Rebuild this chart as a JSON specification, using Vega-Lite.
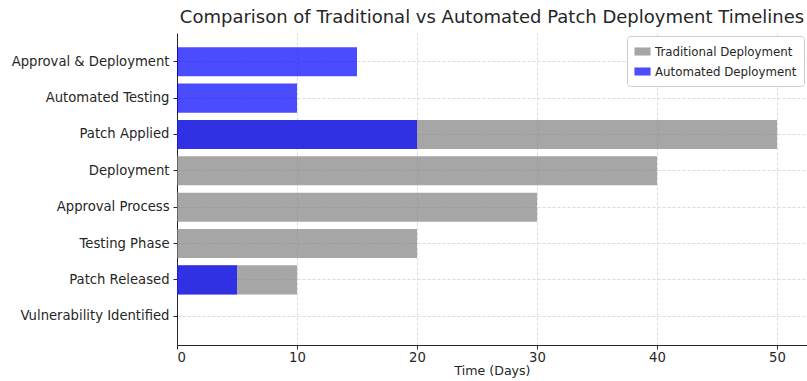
{
  "$schema": "https://vega.github.io/schema/vega-lite/v6.json",
  "width": 630,
  "height": 312,
  "autosize": {"type": "none"},
  "padding": {"left": 177, "top": 33, "right": 0, "bottom": 36},
  "background": "white",
  "config": {
    "font": "DejaVu Sans",
    "view": {"stroke": null},
    "axis": {
      "labelFont": "DejaVu Sans",
      "titleFont": "DejaVu Sans",
      "labelColor": "#262626",
      "titleColor": "#262626",
      "domainColor": "#262626",
      "tickColor": "#262626",
      "gridColor": "#d0d0d0",
      "gridDash": [3, 2],
      "gridWidth": 0.8,
      "domainWidth": 1,
      "tickSize": 4
    }
  },
  "title": {
    "text": "Comparison of Traditional vs Automated Patch Deployment Timelines",
    "fontSize": 18,
    "fontWeight": "normal",
    "color": "#262626",
    "anchor": "middle",
    "offset": 6
  },
  "data": {
    "values": [
      {"step": "Vulnerability Identified", "method": "Traditional Deployment", "days": 0},
      {"step": "Patch Released", "method": "Traditional Deployment", "days": 10},
      {"step": "Testing Phase", "method": "Traditional Deployment", "days": 20},
      {"step": "Approval Process", "method": "Traditional Deployment", "days": 30},
      {"step": "Deployment", "method": "Traditional Deployment", "days": 40},
      {"step": "Patch Applied", "method": "Traditional Deployment", "days": 50},
      {"step": "Vulnerability Identified", "method": "Automated Deployment", "days": 0},
      {"step": "Patch Released", "method": "Automated Deployment", "days": 5},
      {"step": "Patch Applied", "method": "Automated Deployment", "days": 20},
      {"step": "Automated Testing", "method": "Automated Deployment", "days": 10},
      {"step": "Approval & Deployment", "method": "Automated Deployment", "days": 15}
    ]
  },
  "mark": {"type": "bar", "opacity": 0.7},
  "encoding": {
    "y": {
      "field": "step",
      "type": "nominal",
      "sort": ["Approval & Deployment", "Automated Testing", "Patch Applied", "Deployment", "Approval Process", "Testing Phase", "Patch Released", "Vulnerability Identified"],
      "scale": {"paddingInner": 0.2, "paddingOuter": 0.39},
      "axis": {
        "title": null,
        "labelFontSize": 13.2,
        "labelPadding": 4,
        "grid": true,
        "bandPosition": 0.5
      }
    },
    "x": {
      "field": "days",
      "type": "quantitative",
      "stack": null,
      "scale": {"domain": [0, 52.5], "nice": false},
      "axis": {
        "title": "Time (Days)",
        "values": [0, 10, 20, 30, 40, 50],
        "labelFontSize": 13.2,
        "titleFontSize": 12.6,
        "titleFontWeight": "normal",
        "titlePadding": 1,
        "labelPadding": 2,
        "grid": true
      }
    },
    "color": {
      "field": "method",
      "type": "nominal",
      "scale": {"domain": ["Traditional Deployment", "Automated Deployment"], "range": ["gray", "blue"]},
      "legend": {
        "title": null,
        "orient": "top-right",
        "offset": 3,
        "labelFontSize": 11.8,
        "labelColor": "#262626",
        "symbolType": "M-1,-0.5L1,-0.5L1,0.5L-1,0.5Z",
        "symbolSize": 260,
        "symbolOpacity": 0.7,
        "symbolStrokeWidth": 0,
        "fillColor": "white",
        "strokeColor": "#cccccc",
        "cornerRadius": 3,
        "padding": 7,
        "rowPadding": 4
      }
    },
    "order": {"field": "method", "sort": "descending"}
  }
}
